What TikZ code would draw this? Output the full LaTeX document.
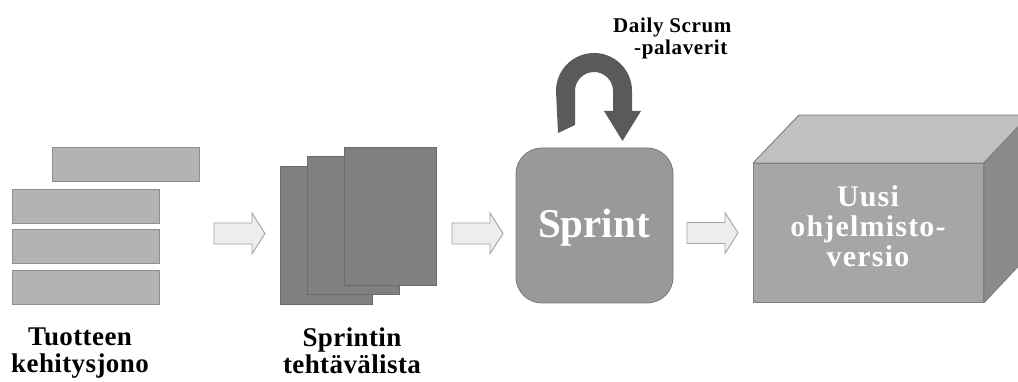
\documentclass[tikz,border=0pt]{standalone}
\usepackage{fontspec}
\setmainfont{Liberation Serif}
\definecolor{barfill}{HTML}{B3B3B3}
\definecolor{barline}{HTML}{8E8E8E}
\definecolor{pagefill}{HTML}{808080}
\definecolor{pageline}{HTML}{6B6B6B}
\definecolor{arrowfill}{HTML}{EDEDED}
\definecolor{arrowline}{HTML}{A3A3A3}
\definecolor{sprintfill}{HTML}{999999}
\definecolor{sprintline}{HTML}{7C7C7C}
\definecolor{loopfill}{HTML}{5A5A5A}
\definecolor{cubefront}{HTML}{A6A6A6}
\definecolor{cubetop}{HTML}{C0C0C0}
\definecolor{cubeside}{HTML}{8B8B8B}
\definecolor{cubeline}{HTML}{7F7F7F}
\begin{document}
\begin{tikzpicture}[x=1pt,y=-1pt,
  bar/.style={draw=barline,fill=barfill,line width=1pt,inner sep=0pt,anchor=north west,
    minimum width=147pt,minimum height=34pt},
  page/.style={draw=pageline,fill=pagefill,line width=0.8pt,inner sep=0pt,anchor=north west,
    minimum width=92pt,minimum height=138pt},
  arrowface/.style={draw=arrowline,fill=arrowfill,line width=0.9pt,line join=miter},
  blockarrow/.pic={\draw[arrowface] (0,-10.5) -- (38,-10.5) -- (38,-20.5) -- (51,0)
    -- (38,20.5) -- (38,10.5) -- (0,10.5) -- cycle;},
  caption/.style={font=\bfseries\fontsize{27pt}{27pt}\selectfont\addfontfeature{LetterSpace=1.5},
    align=center,inner sep=0pt,anchor=north},
  whitetext/.style 2 args={text=white,
    font=\bfseries\fontsize{#1pt}{#1pt}\selectfont\addfontfeature{LetterSpace=#2},
    align=center,inner sep=0pt},
  face/.style={draw=cubeline,line width=0.9pt,line join=round}
]
\useasboundingbox (0,0) rectangle (1018,382);
\clip (0,0) rectangle (1018,382);

% product backlog: stacked bars
\node[bar] (bar1) at (52,147) {};
\node[bar] (bar2) at (12,189) {};
\node[bar] (bar3) at (12,229) {};
\node[bar] (bar4) at (12,270) {};

% sprint backlog: stacked sheets
\node[page] (sheet1) at (280,166) {};
\node[page] (sheet2) at (307,156) {};
\node[page] (sheet3) at (344,147) {};

% block arrows between the stages
\pic at (214,233.5) {blockarrow};
\pic at (452,233.5) {blockarrow};
\pic at (687,233) {blockarrow};

% sprint box
\node[draw=sprintline,fill=sprintfill,line width=0.9pt,rounded corners=26pt,
  minimum width=157pt,minimum height=155pt,inner sep=0pt] (sprint) at (594.5,225.5) {};
\node[whitetext={41}{0},anchor=base] (sprinttext) at (594,238) {Sprint};

% daily scrum loop arrow above the sprint box
\fill[loopfill] (558,133) -- (556,91) arc[start angle=180,end angle=360,radius=38]
  -- (632,111) -- (641,111) -- (622.5,141) -- (604,111) -- (613,111) -- (613,91)
  arc[start angle=360,end angle=180,radius=19] -- (575,125) -- cycle;
\node[font=\bfseries\fontsize{21pt}{22pt}\selectfont\addfontfeature{LetterSpace=3},
  align=left,inner sep=0pt,anchor=north west] (daily) at (613,18)
  {Daily Scrum\\\hspace*{21pt}-palaverit};

% new software version: cube
\node[face,fill=cubefront,minimum width=230pt,minimum height=139pt,inner sep=0pt,
  anchor=north west] (cube) at (753,163) {};
\draw[face,fill=cubetop] (cube.north west) -- ++(46,-48) -- ++(230,0)
  -- (cube.north east) -- cycle;
\draw[face,fill=cubeside] (cube.north east) -- ++(46,-48) -- ++(0,139)
  -- (cube.south east) -- cycle;
\node[whitetext={30}{4}] (cubetext) at (868,226.5)
  {Uusi\\ohjelmisto-\\versio};

% captions
\node[caption] (cap1) at (80,328) {Tuotteen\\kehitysjono};
\node[caption] (cap2) at (352,328) {Sprintin\\tehtävälista};
\end{tikzpicture}
\end{document}
